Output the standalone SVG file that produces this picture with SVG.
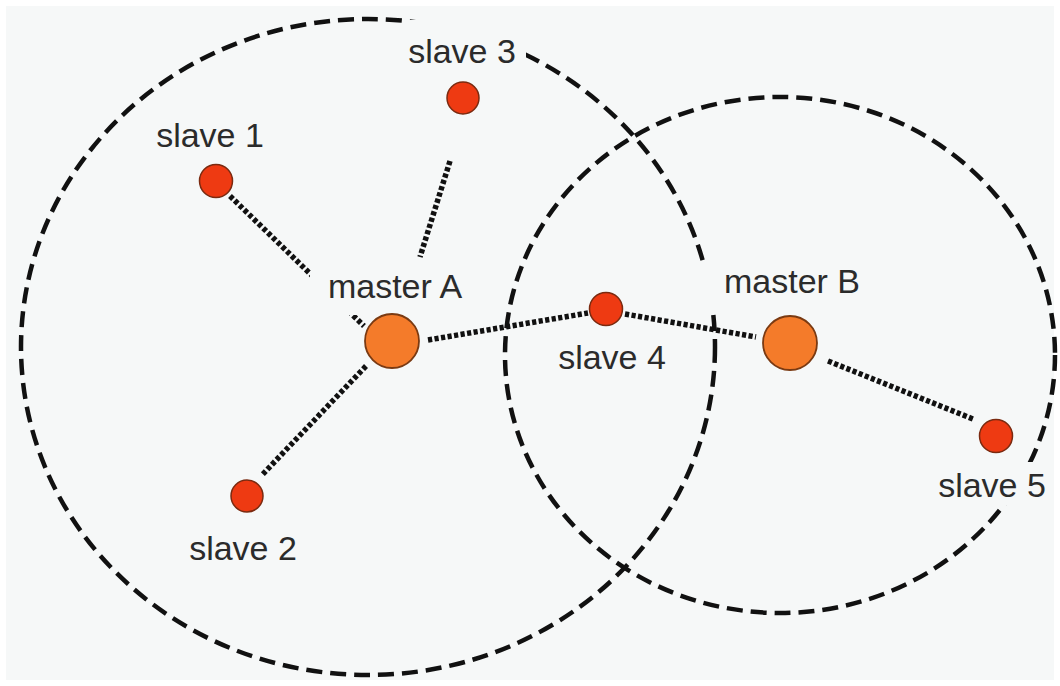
<svg xmlns="http://www.w3.org/2000/svg" width="1060" height="686" viewBox="0 0 1060 686">
  <style>
    .range { fill: none; stroke: #111; stroke-width: 4.5; stroke-dasharray: 16 8; }
    .link { fill: none; stroke: #111; stroke-width: 5.5; stroke-dasharray: 4.2 2.4; }
    .bg { fill: #f6f8f8; }
    .master { fill: #f47b2a; stroke: #7a3a12; stroke-width: 1.8; }
    .slave { fill: #ee3a12; stroke: #7a2a10; stroke-width: 1.5; }
    .label { font-family: "Liberation Sans", Arial, sans-serif; font-size: 34px; fill: #2b2b2b; text-anchor: middle; }
  </style>
  <rect x="0" y="0" width="1060" height="686" fill="#ffffff"/>
  <rect x="6" y="6" width="1048" height="674" class="bg"/>

  <g id="ranges">
    <ellipse cx="368" cy="347" rx="347" ry="328" class="range"/>
    <ellipse cx="780" cy="355" rx="275" ry="258" class="range"/>
  </g>

  <g id="connectors">
    <line x1="230" y1="196" x2="364" y2="326" class="link"/>
    <line x1="450" y1="161" x2="420" y2="257" class="link"/>
    <line x1="366" y1="366" x2="262" y2="475" class="link"/>
    <line x1="428" y1="340" x2="588" y2="313" class="link"/>
    <line x1="625" y1="314" x2="756" y2="337" class="link"/>
    <line x1="828" y1="361" x2="973" y2="419" class="link"/>
  </g>

  <g id="label-backgrounds">
    <rect x="402" y="20" width="124" height="52" class="bg"/>
    <rect x="310" y="272" width="162" height="43" class="bg"/>
    <rect x="700" y="264" width="166" height="45" class="bg"/>
    <rect x="930" y="462" width="122" height="43" class="bg"/>
  </g>

  <g id="master-A">
    <circle cx="392" cy="341" r="27" class="master"/>
    <text x="395" y="298" class="label">master A</text>
  </g>
  <g id="master-B">
    <circle cx="790" cy="343" r="27" class="master"/>
    <text x="792" y="293" class="label">master B</text>
  </g>
  <g id="slave-1">
    <circle cx="216" cy="181" r="16.5" class="slave"/>
    <text x="210" y="147" class="label">slave 1</text>
  </g>
  <g id="slave-2">
    <circle cx="247" cy="496" r="16" class="slave"/>
    <text x="243" y="560" class="label">slave 2</text>
  </g>
  <g id="slave-3">
    <circle cx="463" cy="98" r="16" class="slave"/>
    <text x="462" y="63" class="label">slave 3</text>
  </g>
  <g id="slave-4">
    <circle cx="606" cy="309" r="16.5" class="slave"/>
    <text x="612" y="369" class="label">slave 4</text>
  </g>
  <g id="slave-5">
    <circle cx="996" cy="436" r="16.5" class="slave"/>
    <text x="992" y="497" class="label">slave 5</text>
  </g>
</svg>
